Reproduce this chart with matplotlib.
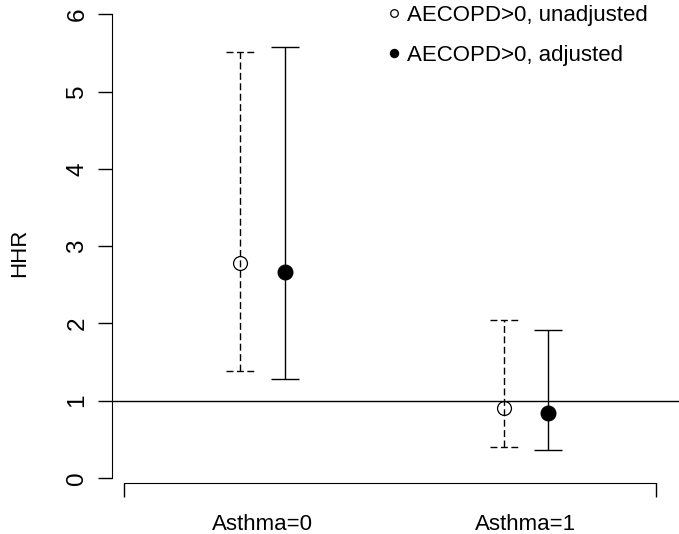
import numpy as np
import matplotlib

matplotlib.use('Agg')

import matplotlib.pyplot as plt

matplotlib.rcParams['font.family'] = ['Liberation Sans', 'DejaVu Sans']

# 数据
groups = ["Asthma=0", "Asthma=1"]
series = ["AECOPD>0, unadjusted", "AECOPD>0, adjusted"]
hhr_unadj = [2.78, 0.90]
lo_unadj = [1.39, 0.40]
hi_unadj = [5.51, 2.04]
hhr_adj = [2.67, 0.84]
lo_adj = [1.28, 0.36]
hi_adj = [5.57, 1.92]
yticks = [0, 1, 2, 3, 4, 5, 6]

x = np.arange(1, len(groups) + 1)
offset = 0.085
cap = 0.053
dash = (0, (5, 2.5))

fig = plt.figure(figsize=(6.79, 5.34), dpi=100)
ax = fig.add_axes([112 / 679, 34 / 534, 1 - 112 / 679, 495 / 534])

# 未校正 (虚线, 空心圆)
xu = x - offset
ax.vlines(xu, lo_unadj, hi_unadj, color='black', lw=1, linestyles=dash)
ax.hlines(lo_unadj, xu - cap, xu + cap, color='black', lw=1, linestyles=dash)
ax.hlines(hi_unadj, xu - cap, xu + cap, color='black', lw=1, linestyles=dash)
p1, = ax.plot(xu, hhr_unadj, 'o', ms=10, mfc='none', mec='black', mew=0.9, label=series[0], zorder=3)

# 校正后 (实线, 实心圆)
xa = x + offset
ax.vlines(xa, lo_adj, hi_adj, color='black', lw=1)
ax.hlines(lo_adj, xa - cap, xa + cap, color='black', lw=1)
ax.hlines(hi_adj, xa - cap, xa + cap, color='black', lw=1)
p2, = ax.plot(xa, hhr_adj, 'o', ms=10.5, mfc='black', mec='black', label=series[1], zorder=3)

ax.axhline(1, color='black', lw=1)

ax.set_xlim(1 + (112 - 262.5) / 263.5, 1 + (679 - 262.5) / 263.5)
ax.set_ylim(-(500 - 478) / 77.3, (478 - 5) / 77.3)

# 坐标轴样式
ax.spines['top'].set_visible(False)
ax.spines['right'].set_visible(False)
ax.spines['left'].set_bounds(0, 6)
ax.spines['bottom'].set_position(('data', -5 / 77.3))
ax.spines['bottom'].set_bounds(0.473, 2.492)

ax.set_yticks(yticks)
ax.set_yticklabels([str(v) for v in yticks], fontsize=17.5, rotation=90, va='center')
ax.tick_params(axis='y', length=10, width=1, pad=7)

ax.set_xticks(x)
ax.set_xticklabels(groups, fontsize=16)
ax.set_xticks([0.473, 2.492], minor=True)
ax.tick_params(axis='x', which='major', length=0, pad=22)
ax.tick_params(axis='x', which='minor', length=10, width=1)

ax.set_ylabel("HHR", fontsize=16, labelpad=26)

ax.legend(handles=[p1, p2], loc='upper left', bbox_to_anchor=((388 - 112) / 567, 1.0),
          frameon=False, fontsize=16, markerscale=0.55, handlelength=0.5,
          handletextpad=0.35, labelspacing=0.86, borderpad=0.0, borderaxespad=0.0)

plt.savefig("out.png", dpi=100)
